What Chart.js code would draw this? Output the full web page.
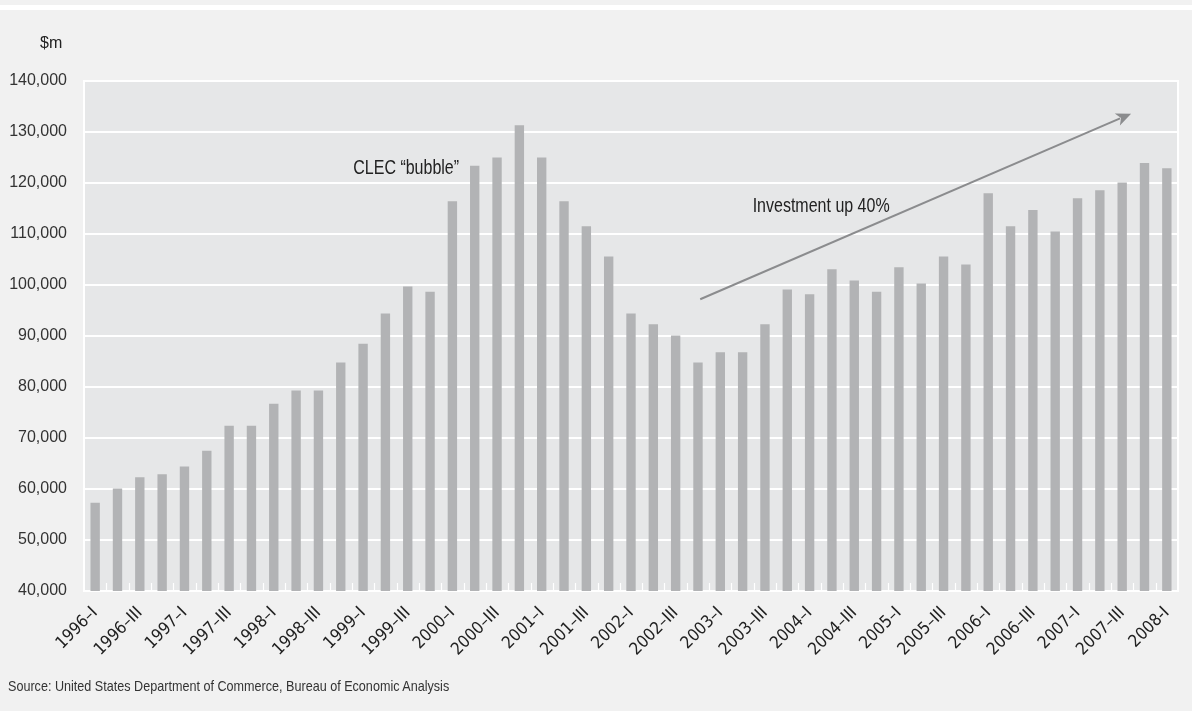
<!DOCTYPE html>
<html lang="en">
<head>
    <meta charset="UTF-8">
    <title>Telecom investment, $m</title>
    <script src="https://cdn.jsdelivr.net/npm/chart.js"></script>
    <style>
        html, body { margin: 0; padding: 0; background: #f1f1f1; }
        body { width: 1192px; height: 711px; position: relative; overflow: hidden; font-family: "Liberation Sans", Arial, sans-serif; }
        .band { position: absolute; left: 0; top: 5px; width: 1192px; height: 5px; background: #fff; }
        .chart-box { position: absolute; left: 0; top: 0; width: 1192px; height: 711px; }
        .unit { position: absolute; left: 40px; top: 34px; font-size: 16px; color: #222; }
        .source { position: absolute; left: 8px; top: 677px; font-size: 15px; color: #333; white-space: nowrap;
                  transform: scaleX(0.84); transform-origin: left top; }
    </style>
</head>
<body>
    <div class="band"></div>
    <div class="chart-box"><canvas id="investChart"></canvas></div>
    <div class="unit">$m</div>
    <div class="source">Source: United States Department of Commerce, Bureau of Economic Analysis</div>

    <script>
        const quarters = [
            '1996–I', '1996–II', '1996–III', '1996–IV',
            '1997–I', '1997–II', '1997–III', '1997–IV',
            '1998–I', '1998–II', '1998–III', '1998–IV',
            '1999–I', '1999–II', '1999–III', '1999–IV',
            '2000–I', '2000–II', '2000–III', '2000–IV',
            '2001–I', '2001–II', '2001–III', '2001–IV',
            '2002–I', '2002–II', '2002–III', '2002–IV',
            '2003–I', '2003–II', '2003–III', '2003–IV',
            '2004–I', '2004–II', '2004–III', '2004–IV',
            '2005–I', '2005–II', '2005–III', '2005–IV',
            '2006–I', '2006–II', '2006–III', '2006–IV',
            '2007–I', '2007–II', '2007–III', '2007–IV',
            '2008-I'
        ];

        // investment, $m
        const investment = [
            57300, 60100, 62300, 62900, 64400, 67500, 72400, 72400,
            76700, 79300, 79300, 84800, 88500, 94400, 99700, 98700,
            116400, 123400, 125000, 131300, 125000, 116400, 111500, 105600,
            94400, 92300, 90100, 84800, 86800, 86800, 92300, 99100,
            98200, 103100, 100900, 98700, 103500, 100300, 105600, 104000,
            118000, 111500, 114700, 110500, 117000, 118600, 120100, 123900,
            122900
        ];

        const yTicks = [40000, 50000, 60000, 70000, 80000, 90000, 100000, 110000, 120000, 130000, 140000];

        // annotations, in data units (category index, $m)
        const bubbleNote = { text: 'CLEC “bubble”', at: [16.3, 122900] };
        const trendNote = { text: 'Investment up 40%', at: [29.45, 115400] };
        const trendArrow = { from: [27.1, 97200], to: [46.4, 133600] };

        const noteFont = '20px "Liberation Sans", Arial, sans-serif';
        const noteSquash = 0.8;

        function squashedText(ctx, text, px, py, align) {
            ctx.save();
            ctx.translate(px, py);
            ctx.scale(noteSquash, 1);
            ctx.textAlign = align;
            ctx.fillText(text, 0, 0);
            ctx.restore();
        }

        const decorations = {
            id: 'decorations',
            beforeDraw(chart) {
                const { ctx, chartArea: a } = chart;
                ctx.save();
                ctx.fillStyle = '#e6e7e8';
                ctx.fillRect(a.left, a.top, a.right - a.left, a.bottom - a.top);
                ctx.restore();
            },
            afterDatasetsDraw(chart) {
                const { ctx, chartArea: a, scales: { x, y } } = chart;
                ctx.save();

                // little white ticks between bars + right border
                ctx.strokeStyle = '#ffffff';
                ctx.lineWidth = 1.2;
                for (let i = 0; i < quarters.length - 1; i++) {
                    const px = Math.round((x.getPixelForValue(i) + x.getPixelForValue(i + 1)) / 2) + 0.5;
                    ctx.beginPath();
                    ctx.moveTo(px, a.bottom);
                    ctx.lineTo(px, a.bottom - 8);
                    ctx.stroke();
                }
                ctx.lineWidth = 2;
                ctx.beginPath();
                ctx.moveTo(a.right, a.top - 1);
                ctx.lineTo(a.right, a.bottom + 1);
                ctx.stroke();

                // trend arrow
                const x0 = x.getPixelForValue(trendArrow.from[0]), y0 = y.getPixelForValue(trendArrow.from[1]);
                const x1 = x.getPixelForValue(trendArrow.to[0]), y1 = y.getPixelForValue(trendArrow.to[1]);
                const ang = Math.atan2(y1 - y0, x1 - x0);
                const headLen = 15, headW = 6.5;
                const bx = x1 - headLen * Math.cos(ang), by = y1 - headLen * Math.sin(ang);
                ctx.strokeStyle = '#8b8c8e';
                ctx.fillStyle = '#8b8c8e';
                ctx.lineWidth = 2;
                ctx.beginPath();
                ctx.moveTo(x0, y0);
                ctx.lineTo(bx + 3 * Math.cos(ang), by + 3 * Math.sin(ang));
                ctx.stroke();
                ctx.beginPath();
                ctx.moveTo(x1, y1);
                ctx.lineTo(bx + headW * Math.sin(ang), by - headW * Math.cos(ang));
                ctx.lineTo(bx + 4 * Math.cos(ang), by + 4 * Math.sin(ang));
                ctx.lineTo(bx - headW * Math.sin(ang), by + headW * Math.cos(ang));
                ctx.closePath();
                ctx.fill();

                // notes
                ctx.fillStyle = '#222';
                ctx.font = noteFont;
                ctx.textBaseline = 'middle';
                squashedText(ctx, bubbleNote.text, x.getPixelForValue(bubbleNote.at[0]), y.getPixelForValue(bubbleNote.at[1]), 'right');
                squashedText(ctx, trendNote.text, x.getPixelForValue(trendNote.at[0]), y.getPixelForValue(trendNote.at[1]), 'left');
                ctx.restore();
            }
        };

        const ctx = document.getElementById('investChart').getContext('2d');
        new Chart(ctx, {
            type: 'bar',
            data: {
                labels: quarters,
                datasets: [{
                    label: 'Investment',
                    data: investment,
                    backgroundColor: '#b2b3b5',
                    borderWidth: 0,
                    categoryPercentage: 1.0,
                    barPercentage: 0.42
                }]
            },
            options: {
                responsive: true,
                maintainAspectRatio: false,
                animation: false,
                layout: { padding: { top: 81, right: 14, left: 0, bottom: 0 } },
                plugins: {
                    legend: { display: false },
                    tooltip: { enabled: false }
                },
                scales: {
                    x: {
                        grid: { display: false },
                        border: { display: true, color: '#ffffff', width: 2 },
                        ticks: {
                            autoSkip: false,
                            maxRotation: 45,
                            minRotation: 45,
                            padding: 4,
                            color: '#222',
                            font: { family: '"DejaVu Sans Condensed", sans-serif', size: 17 },
                            callback: (v, i) => (i % 2 === 0 ? quarters[i] : '')
                        },
                        afterFit: (s) => { s.height = 120; }
                    },
                    y: {
                        min: 40000,
                        max: 140000,
                        afterBuildTicks: (s) => { s.ticks = yTicks.map(v => ({ value: v })); },
                        grid: { color: '#ffffff', lineWidth: 2, drawTicks: false },
                        border: { display: true, color: '#ffffff', width: 2 },
                        ticks: {
                            padding: 17,
                            color: '#333',
                            font: { family: '"Liberation Sans", Arial, sans-serif', size: 16 },
                            callback: (v) => v.toLocaleString('en-US')
                        },
                        afterFit: (s) => { s.width = 84; }
                    }
                }
            },
            plugins: [decorations]
        });
    </script>
</body>
</html>
